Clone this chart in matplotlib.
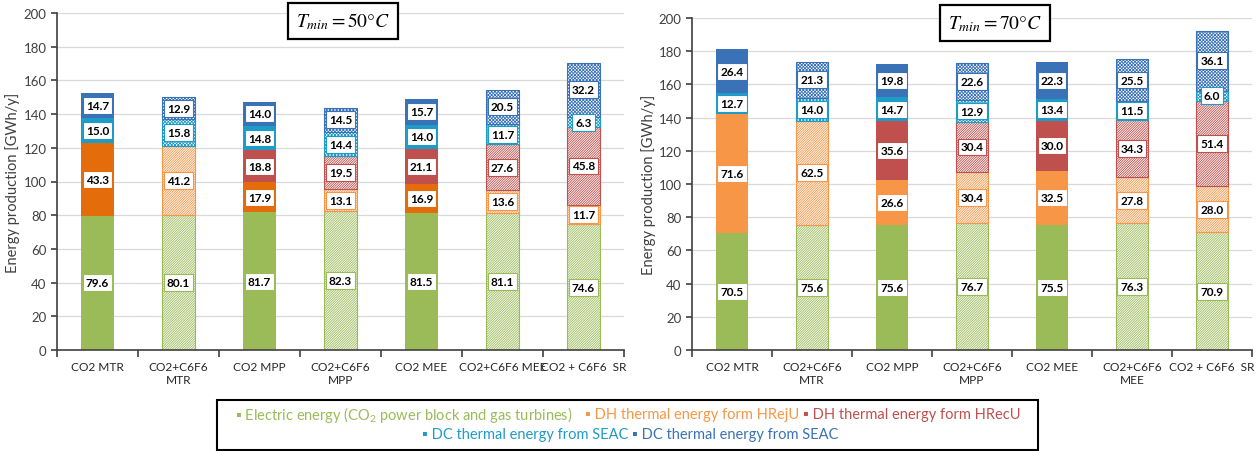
import numpy as np
import matplotlib.pyplot as plt
from matplotlib.patches import Rectangle

plt.rcParams['font.family'] = ['Lato', 'DejaVu Sans']
plt.rcParams['mathtext.fontset'] = 'stix'
plt.rcParams['hatch.linewidth'] = 0.6

# categories
labels_50 = ['CO2 MTR', 'CO2+C6F6\nMTR', 'CO2 MPP', 'CO2+C6F6\nMPP', 'CO2 MEE',
             'CO2+C6F6 MEE', 'CO2 + C6F6  SR']
labels_70 = ['CO2 MTR', 'CO2+C6F6\nMTR', 'CO2 MPP', 'CO2+C6F6\nMPP', 'CO2 MEE',
             'CO2+C6F6\nMEE', 'CO2 + C6F6  SR']
hatched = [False, True, False, True, False, True, True]

# Tmin = 50 C
elec_50 = [79.6, 80.1, 81.7, 82.3, 81.5, 81.1, 74.6]
hrej_50 = [43.3, 41.2, 17.9, 13.1, 16.9, 13.6, 11.7]
hrec_50 = [0, 0, 18.8, 19.5, 21.1, 27.6, 45.8]
dc1_50 = [15.0, 15.8, 14.8, 14.4, 14.0, 11.7, 6.3]
dc2_50 = [14.7, 12.9, 14.0, 14.5, 15.7, 20.5, 32.2]

# Tmin = 70 C
elec_70 = [70.5, 75.6, 75.6, 76.7, 75.5, 76.3, 70.9]
hrej_70 = [71.6, 62.5, 26.6, 30.4, 32.5, 27.8, 28.0]
hrec_70 = [0, 0, 35.6, 30.4, 30.0, 34.3, 51.4]
dc1_70 = [12.7, 14.0, 14.7, 12.9, 13.4, 11.5, 6.0]
dc2_70 = [26.4, 21.3, 19.8, 22.6, 22.3, 25.5, 36.1]

legend_txt = ['\u25aa Electric energy (CO$\\mathregular{_2}$ power block and gas turbines)',
              '\u25aa DH thermal energy form HRejU',
              '\u25aa DH thermal energy form HRecU',
              '\u25aa DC thermal energy from SEAC',
              '\u25aa DC thermal energy from SEAC']

green = '#9BBB59'
orange = '#F79646'
dkorange = '#E46C0A'
red = '#C0504D'
cyan = '#1E9BC6'
blue = '#3A72B8'
hatch_pat = ['/' * 14, '/' * 14, '/' * 14, 'x' * 10, 'x' * 10]


def draw(ax, labels, series, solid_orange):
    x = np.arange(len(labels))
    bottom = np.zeros(len(labels))
    solid = [green, solid_orange, red, cyan, blue]
    light = [green, orange, red, cyan, blue]
    for k, vals in enumerate(series):
        vals = np.array(vals, dtype=float)
        for i in range(len(x)):
            if vals[i] == 0:
                continue
            if hatched[i]:
                ax.bar(x[i], vals[i], 0.41, bottom=bottom[i], facecolor='white',
                       edgecolor=light[k], hatch=hatch_pat[k], linewidth=0.8)
                ec = light[k]
            else:
                ax.bar(x[i], vals[i], 0.41, bottom=bottom[i], color=solid[k],
                       linewidth=0)
                ec = solid[k]
            ax.text(x[i], bottom[i] + vals[i] / 2, f'{vals[i]:.1f}', ha='center',
                    va='center', fontsize=8.5, fontweight='bold',
                    bbox=dict(boxstyle='square,pad=0.25', fc='white', ec=ec, lw=0.8))
        bottom += vals

    ax.set_xlim(-0.5, 6.5)
    ax.set_ylim(0, 200)
    ax.set_yticks(np.arange(0, 201, 20))
    ax.set_xticks(np.arange(-0.5, 7, 1))
    ax.set_xticklabels([])
    ax.set_xticks(x, minor=True)
    ax.set_xticklabels(labels, minor=True, fontsize=8.6, color='#262626')
    ax.tick_params(axis='x', which='major', length=5, width=1.2, color='#404040')
    ax.tick_params(axis='x', which='minor', length=0, pad=8)
    ax.tick_params(axis='y', length=4, width=1.2, color='#404040', labelsize=9.5,
                   labelcolor='#404040')
    ax.yaxis.grid(True, color='#D9D9D9', lw=0.9)
    ax.set_axisbelow(True)
    for s in ['top', 'right']:
        ax.spines[s].set_visible(False)
    for s in ['left', 'bottom']:
        ax.spines[s].set_color('#404040')
        ax.spines[s].set_linewidth(1.2)
    ax.set_ylabel('Energy production [GWh/y]', fontsize=10.5, color='#404040')


fig = plt.figure(figsize=(12.6, 4.52), dpi=100)
ax1 = fig.add_axes([57 / 1260, 1 - 351 / 452, 567 / 1260, 337 / 452])
ax2 = fig.add_axes([692 / 1260, 1 - 351 / 452, 560 / 1260, 332 / 452])

draw(ax1, labels_50, [elec_50, hrej_50, hrec_50, dc1_50, dc2_50], dkorange)
draw(ax2, labels_70, [elec_70, hrej_70, hrec_70, dc1_70, dc2_70], orange)
ax1.yaxis.set_label_coords(-0.065, 0.5)
ax2.yaxis.set_label_coords(-0.065, 0.5)

box = dict(boxstyle='square,pad=0.4', fc='white', ec='black', lw=1.6)
fig.text(343 / 1260, 1 - 22 / 452, r'$T_{min} = 50°C$', ha='center', va='center',
         fontsize=14, bbox=box)
fig.text(995 / 1260, 1 - 24 / 452, r'$T_{min} = 70°C$', ha='center', va='center',
         fontsize=14, bbox=box)

# legend frame and coloured entries
fig.patches.append(Rectangle((217 / 1260, 1 - 451 / 452), 821 / 1260, 50 / 452,
                             transform=fig.transFigure, fill=False, ec='black', lw=1.5))
leg_x = [235, 585, 803, 422, 632]
leg_y = [415, 415, 415, 435, 435]
leg_c = [green, orange, red, cyan, blue]
for t, lx, ly, c in zip(legend_txt, leg_x, leg_y, leg_c):
    fig.text(lx / 1260, 1 - ly / 452, t, ha='left', va='center', fontsize=10.5, color=c)

fig.savefig('out.png', dpi=100)
